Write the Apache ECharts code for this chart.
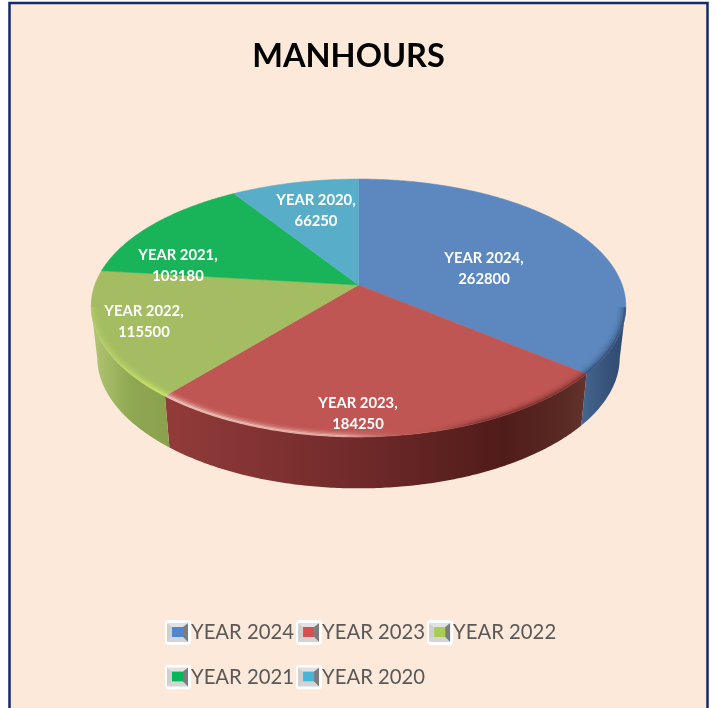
<!DOCTYPE html>
<html><head><meta charset="utf-8">
<style>html,body{margin:0;padding:0;background:#fff}#c{width:717px;height:708px}</style>
<script src="https://cdn.jsdelivr.net/npm/echarts@6/dist/echarts.min.js"></script>
</head><body><div id="c"></div>
<script>
const categories = ['YEAR 2024','YEAR 2023','YEAR 2022','YEAR 2021','YEAR 2020'];
const manhours = [262800,184250,115500,103180,66250];
const topColors = ['#5c88bf','#bf5653','#a4bc62','#19b45a','#58aec9'];
const swatchColors = ['#4f86cf','#d65050','#a9cc55','#00b85a','#48b4d8'];
const wallStops = [
  [[0,'#46678f'],[.6,'#36527a'],[1,'#2f4a70']],
  [[0,'#923c3a'],[.45,'#712a2a'],[.8,'#501c1a'],[.95,'#5a2a25'],[1,'#63352e']],
  [[0,'#b4c674'],[.5,'#8fa852'],[1,'#8aa04e']],
  [[0,'#119048'],[1,'#119048']],
  [[0,'#3f8aa0'],[1,'#3f8aa0']]
];
const rimShades = {
  0:[[0,'30,50,80',.55],[1,'30,50,80',.55]],
  1:[[0,'255,235,225',.65],[.42,'255,228,218',.5],[.6,'150,70,70',.02],[.75,'70,20,20',.38],[1,'70,20,20',.45]],
  2:[[0,'215,240,120',.2],[1,'205,238,100',.75]]
};
const labelAnchors = [[484,268.5],[358,413.5],[144,321.5],[178,265.5],[316,210.5]];
const legendRows = [[0,1,2],[3,4]];

const PIE = {cx:358.5, apexY:285, R:263.7, a:-74.1, c:0.178, cx2:0.165, depth:51.5, baseScale:0.977};
const total = manhours.reduce((s,v)=>s+v,0);
function project(theta,r,base){
  const u=Math.sin(theta)*r, v=Math.cos(theta)*r;
  const x=PIE.R*u/(1+PIE.cx2*v), y=(PIE.a*v+PIE.apexY)/(1+PIE.c*v);
  return base?[PIE.cx+x*PIE.baseScale,y+PIE.depth]:[PIE.cx+x,y];
}
function arc(t0,t1,r,base){
  const n=Math.max(2,Math.ceil(Math.abs(t1-t0)/0.01)),pts=[];
  for(let i=0;i<=n;i++)pts.push(project(t0+(t1-t0)*i/n,r,base));
  return pts;
}
const VIS0=100*Math.PI/180, VIS1=260*Math.PI/180;
function gradX(x0,x1,stops){return new echarts.graphic.LinearGradient(x0,0,x1,0,stops.map(s=>({offset:s[0],color:s[1]})),true);}

function renderSlice(params,api){
  const idx=params.seriesIndex, val=api.value(0);
  const before=manhours.slice(0,idx).reduce((s,v)=>s+v,0);
  const t0=before/total*2*Math.PI, t1=t0+val/total*2*Math.PI;
  const children=[];
  const a0=Math.max(t0,VIS0), a1=Math.min(t1,VIS1);
  if(a1>a0){
    const top=arc(a0,a1,1,false), bot=arc(a1,a0,1,true);
    const xs=top.concat(bot).map(p=>p[0]);
    children.push({type:'polygon',z2:1,shape:{points:top.concat(bot)},
      style:{fill:gradX(Math.min(...xs),Math.max(...xs),wallStops[idx])}});
  }
  children.push({type:'polygon',z2:2,shape:{points:[[PIE.cx,PIE.apexY]].concat(arc(t0,t1,1,false))},
    style:{fill:topColors[idx],stroke:topColors[idx],lineWidth:0.5}});
  if(a1>a0 && rimShades[idx]){
    const top=arc(a0,a1,1,false), xs=top.map(p=>p[0]);
    const x0=Math.min(...xs),x1=Math.max(...xs);
    [[.997,1],[.99,.55],[.983,.3],[.976,.14],[.969,.06]].forEach(s=>{
      children.push({type:'polyline',z2:3,shape:{points:arc(a0,a1,s[0],false)},
        style:{fill:null,lineWidth:2.2,stroke:gradX(x0,x1,rimShades[idx].map(c=>[c[0],'rgba('+c[1]+','+(c[2]*s[1])+')']))}});
    });
  }
  const anchor=labelAnchors[idx];
  children.push({type:'text',z2:10,x:anchor[0],y:anchor[1],style:{
    text:categories[idx]+',\n'+val,fill:'#fff',align:'center',verticalAlign:'middle',
    font:'bold 14.8px Lato',lineHeight:21}});
  return {type:'group',children};
}

function iconFor(color){
  const svg=`<svg xmlns="http://www.w3.org/2000/svg" width="26" height="25"><rect width="26" height="25" rx="4" fill="#fff"/><polygon points="2,3 23,3 18,7 7,7" fill="#e2e2e2"/><polygon points="2,3 7,7 7,17 2,22" fill="#cfcfcf"/><polygon points="2,22 7,17 18,17 23,22" fill="#d4d4d4"/><polygon points="23,3 18,7 18,17 23,22" fill="#7c7c7c"/><rect x="7" y="7" width="11" height="10" fill="${color}"/></svg>`;
  return 'image://data:image/svg+xml;charset=utf-8,'+encodeURIComponent(svg);
}
const legendBase={left:165,orient:'horizontal',itemGap:2,itemWidth:26,itemHeight:25,padding:0,
  textStyle:{color:'#595959',fontFamily:'Lato',fontSize:20.3,padding:[0,0,0,-5]}};

const chart=echarts.init(document.getElementById('c'),null,{renderer:'canvas'});
chart.setOption({
  backgroundColor:'#fff',animation:false,
  title:{text:'MANHOURS',left:343.5,top:35,textAlign:'center',textStyle:{fontFamily:'Lato',fontWeight:'bold',fontSize:32.5,color:'#000'}},
  graphic:[{type:'rect',z:-10,silent:true,shape:{x:9.5,y:3,width:698,height:730},style:{fill:'#fde9da',stroke:'#12296b',lineWidth:2.5}}],
  legend:legendRows.map((row,i)=>Object.assign({},legendBase,{top:i?664.5:620,
    data:row.map(k=>({name:categories[k],icon:iconFor(swatchColors[k])}))})),
  series:categories.map((name,i)=>({type:'custom',name,coordinateSystem:'none',silent:true,
    renderItem:renderSlice,data:[[manhours[i]]],itemStyle:{color:topColors[i]}}))
});
</script></body></html>
